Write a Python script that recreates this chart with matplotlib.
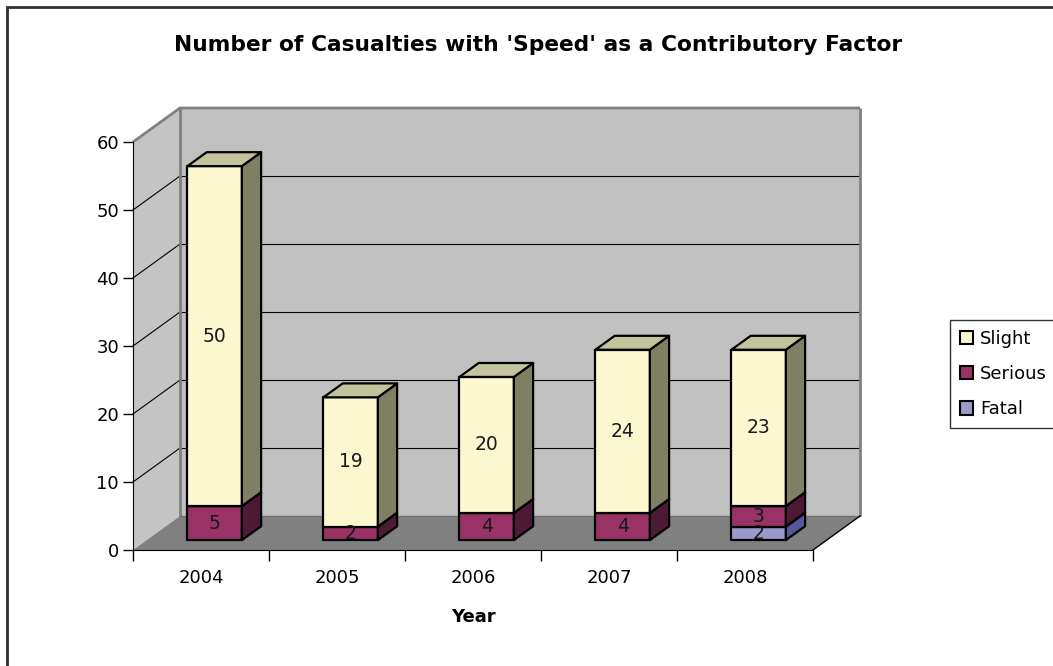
import matplotlib
matplotlib.use("Agg")
import matplotlib.pyplot as plt
from matplotlib.patches import Polygon, Patch, Rectangle

years = ["2004", "2005", "2006", "2007", "2008"]
fatal = [0, 0, 0, 0, 2]
serious = [5, 2, 4, 4, 3]
slight = [50, 19, 20, 24, 23]

series = [
    ("Fatal", fatal, "#9999cc", "#55559a", "#b8b8de"),
    ("Serious", serious, "#993366", "#4d1a36", "#b86688"),
    ("Slight", slight, "#fbf8cf", "#7f7f63", "#c4c49c"),
]

W, H = 1053, 666
fig = plt.figure(figsize=(W / 100, H / 100), dpi=100)
plt.rcParams['font.family'] = 'DejaVu Sans'

# front plane of the 3d box: x 133..813 px, y 550..142 px
ax = fig.add_axes([133 / W, (H - 550) / H, 680 / W, 408 / H])
ax.set_xlim(0, 5)
ax.set_ylim(0, 60)
ax.set_facecolor("none")

DX, DY = 0.3456, 5.0   # full depth of the box in data units
F0, F1 = 0.29, 0.70     # bar front / back depth
B0, B1 = 0.30, 0.70     # bar extent inside category


def pt(x, y, d):
    return (x + d * DX, y + d * DY)


def poly(pts, fc, ec="none", lw=0, z=1):
    ax.add_patch(Polygon(pts, closed=True, facecolor=fc, edgecolor=ec,
                         linewidth=lw, zorder=z, clip_on=False,
                         joinstyle="round"))


n = len(years)
top = 60
# walls and floor
poly([pt(0, 0, 1), pt(n, 0, 1), pt(n, top, 1), pt(0, top, 1)], "#c0c0c0", z=0)
poly([(0, 0), (0, top), pt(0, top, 1), pt(0, 0, 1)], "#c4c4c4", z=0)
poly([(0, 0), (n, 0), pt(n, 0, 1), pt(0, 0, 1)], "#808080", z=0)

for v in range(10, top, 10):
    ax.plot([pt(0, v, 1)[0], pt(n, v, 1)[0]], [pt(0, v, 1)[1]] * 2,
            color="black", lw=0.8, zorder=0.5, clip_on=False)
    ax.plot([0, DX], [v, v + DY], color="black", lw=0.8, zorder=0.5, clip_on=False)

edge = dict(color="#808080", lw=2, zorder=0.6, clip_on=False, solid_capstyle="butt")
ax.plot([DX, DX], [DY, top + DY], **edge)
ax.plot([n + DX, n + DX], [DY, top + DY], **edge)
ax.plot([0, DX, n + DX], [top, top + DY, top + DY], **edge)
ax.plot([DX, n + DX], [DY, DY], color="#707070", lw=1, zorder=0.6, clip_on=False)
ax.plot([n, n + DX], [0, DY], color="black", lw=1, zorder=0.6, clip_on=False)

# stacked pseudo-3d bars
for i in range(n):
    x0, x1 = i + B0, i + B1
    base = 0
    for name, vals, fc, sc, tc in series:
        v = vals[i]
        if v == 0:
            continue
        y0, y1 = base, base + v
        poly([pt(x0, y0, F0), pt(x1, y0, F0), pt(x1, y1, F0), pt(x0, y1, F0)],
             fc, "black", 1.6, z=2)
        poly([pt(x1, y0, F0), pt(x1, y0, F1), pt(x1, y1, F1), pt(x1, y1, F0)],
             sc, "black", 1.6, z=2)
        poly([pt(x0, y1, F0), pt(x1, y1, F0), pt(x1, y1, F1), pt(x0, y1, F1)],
             tc, "black", 1.6, z=2)
        cx, cy = pt((x0 + x1) / 2, (y0 + y1) / 2, F0)
        ax.text(cx, cy, str(v), ha="center", va="center", fontsize=13.5,
                color="#1a1a1a", zorder=3)
        base = y1

# axes
for s in ["top", "right"]:
    ax.spines[s].set_visible(False)
ax.spines["left"].set_color("black")
ax.spines["bottom"].set_color("black")
ax.spines["left"].set_zorder(1.5)
ax.spines["bottom"].set_zorder(1.5)
ax.set_yticks(range(0, 61, 10))
ax.tick_params(axis="y", length=7, width=1, pad=3, labelsize=13)
ax.set_xticks(range(n + 1))
ax.set_xticklabels([])
ax.set_xticks([i + 0.5 for i in range(n)], minor=True)
ax.set_xticklabels(years, minor=True)
ax.tick_params(axis="x", which="major", length=8, width=1)
ax.tick_params(axis="x", which="minor", length=0, pad=14, labelsize=13)
ax.set_xlabel("Year", fontsize=13, fontweight="bold", labelpad=15)

fig.text(538 / W, 1 - 45 / H, "Number of Casualties with 'Speed' as a Contributory Factor",
         ha="center", va="center", fontsize=15.7, fontweight="bold")

handles = [Patch(facecolor=fc, edgecolor="black", linewidth=1.5, label=name)
           for name, vals, fc, sc, tc in reversed(series)]
leg = fig.legend(handles=handles, loc="upper left",
                 bbox_to_anchor=(950 / W, 1 - 320 / H), fontsize=13,
                 frameon=True, fancybox=False, handlelength=0.75,
                 handleheight=0.75, handletextpad=0.35, labelspacing=0.95,
                 borderpad=0.55, borderaxespad=0)
leg.get_frame().set_edgecolor("black")
leg.get_frame().set_linewidth(1)

fig.add_artist(Rectangle((7 / W, -0.1), 1.2, 1.1 - 7 / H, transform=fig.transFigure,
                         facecolor="none", edgecolor="#303030", linewidth=2))

fig.savefig("out.png", dpi=100)
